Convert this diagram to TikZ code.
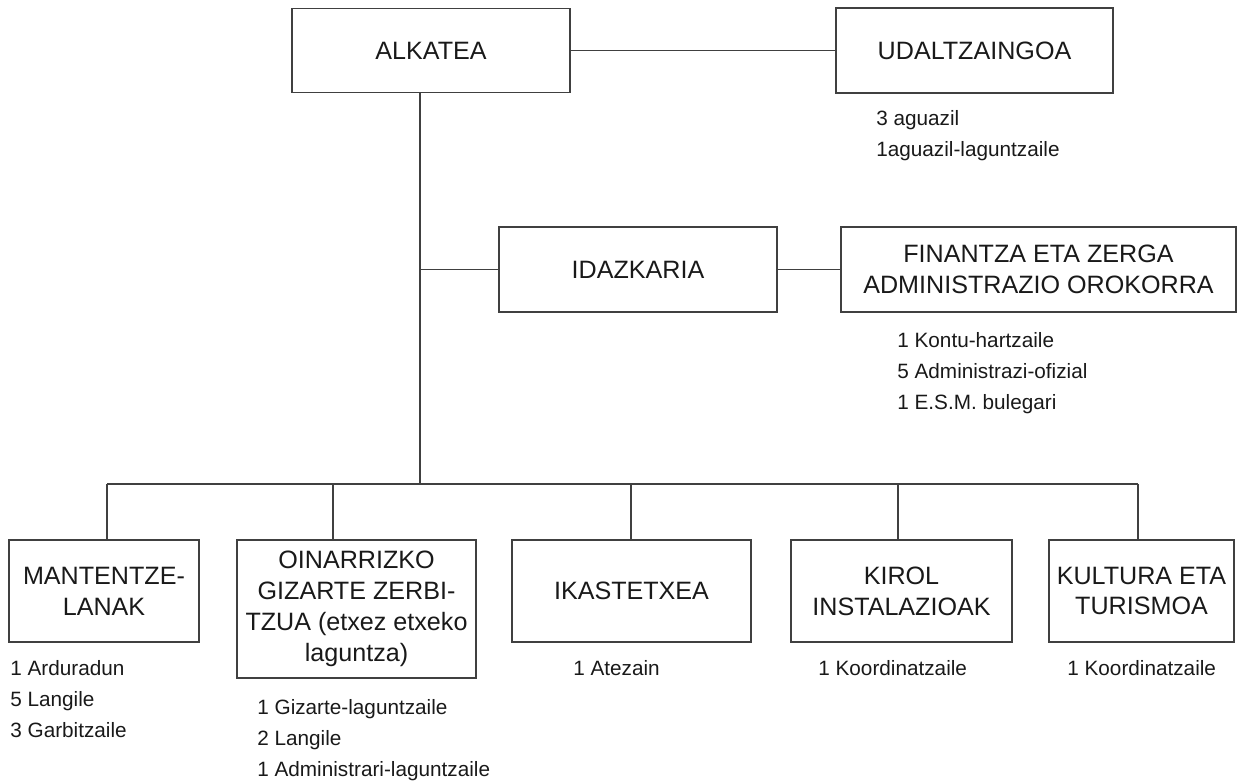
\documentclass[tikz,border=0pt]{standalone}
\usepackage{fontspec}
\setmainfont{Liberation Sans}
\usepackage{tikz}
\usetikzlibrary{positioning}

\begin{document}
\begin{tikzpicture}[x=0.02cm,y=-0.02cm,
    unit/.style={draw=black!75,line width=0.8pt,align=center,text=black!90,
      font=\fontsize{14.3}{17.6}\selectfont,inner sep=1pt},
    staff/.style={anchor=north west,align=left,inner sep=0pt,text=black!90,
      font=\fontsize{11.8}{17.6}\selectfont},
    link/.style={black!75,line width=0.8pt}]
    \useasboundingbox (0,0) rectangle (1238,783);

    % Top level
    \node[unit,minimum width=5.56cm,minimum height=1.68cm] (alk) at (431,50.5) {ALKATEA};
    \node[unit,minimum width=5.54cm,minimum height=1.7cm] (udal) at (974.5,50.5) {UDALTZAINGOA};
    \node[staff] (udalstaff) at (876,110) {3 aguazil\\1aguazil-laguntzaile};
    \draw[link] (alk.east) -- (udal.west);

    % Secretary branch
    \node[unit,minimum width=5.56cm,minimum height=1.7cm] (idaz) at (638,269.5) {IDAZKARIA};
    \node[unit,minimum width=7.9cm,minimum height=1.7cm] (finan) at (1038.5,269.5) {FINANTZA ETA ZERGA\\ADMINISTRAZIO OROKORRA};
    \node[staff] (finanstaff) at (897,332) {1 Kontu-hartzaile\\5 Administrazi-ofizial\\1 E.S.M. bulegari};
    \draw[link] (idaz.east) -- (finan.west);

    % Trunk and bus
    \coordinate (bus) at (420,484);
    \coordinate (d1) at (107,484);
    \coordinate (d2) at (333,484);
    \coordinate (d3) at (631,484);
    \coordinate (d4) at (898,484);
    \coordinate (d5) at (1138,484);
    \draw[link] (alk.south -| bus) -- (bus);
    \draw[link] (idaz.west -| bus) -- (idaz.west);
    \draw[link] (d1) -- (d5);

    % Services
    \node[unit,minimum width=3.8cm,minimum height=2.04cm] (mant) at (104,591) {MANTENTZE-\\LANAK};
    \node[unit,minimum width=4.78cm,minimum height=2.76cm] (oina) at (356.5,609) {OINARRIZKO\\GIZARTE ZERBI-\\TZUA (etxez etxeko\\laguntza)};
    \node[unit,minimum width=4.78cm,minimum height=2.04cm] (ikas) at (631.5,591) {IKASTETXEA};
    \node[unit,minimum width=4.42cm,minimum height=2.04cm] (kirol) at (901.5,591) {KIROL\\INSTALAZIOAK};
    \node[unit,minimum width=3.7cm,minimum height=2.04cm] (kult) at (1141.5,591) {KULTURA ETA\\TURISMOA};
    \foreach \d/\u in {d1/mant,d2/oina,d3/ikas,d4/kirol,d5/kult}
        \draw[link] (\d) -- (\d |- \u.north);

    % Staff
    \node[staff] (mantstaff) at (10,660) {1 Arduradun\\5 Langile\\3 Garbitzaile};
    \node[staff] (oinastaff) at (257,699) {1 Gizarte-laguntzaile\\2 Langile\\1 Administrari-laguntzaile};
    \node[staff] (ikasstaff) at (573,660) {1 Atezain};
    \node[staff] (kirolstaff) at (818,660) {1 Koordinatzaile};
    \node[staff] (kultstaff) at (1067,660) {1 Koordinatzaile};
\end{tikzpicture}
\end{document}
